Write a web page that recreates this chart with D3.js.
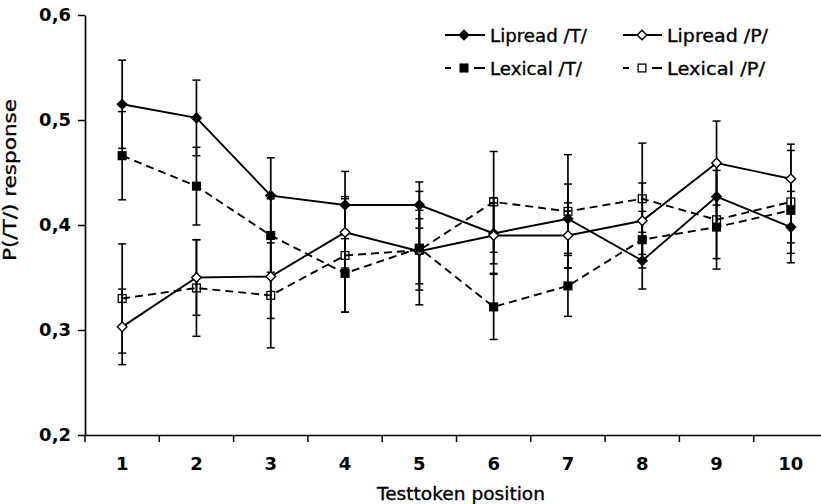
<!DOCTYPE html>
<html>
<head>
<meta charset="utf-8">
<script src="https://cdn.jsdelivr.net/npm/d3@7"></script>
<style>
  html, body { margin: 0; padding: 0; background: #fff; }
  svg { display: block; }
  text { font-family: "DejaVu Sans", "Liberation Sans", Arial, sans-serif; fill: #000; }
  .heavy { stroke: #000; stroke-width: 0.35px; }
</style>
</head>
<body>
<svg id="chart" width="821" height="504"></svg>
<script>
// Testtoken positions along the x axis
const positions = [1, 2, 3, 4, 5, 6, 7, 8, 9, 10];

// Mean P(/T/) responses and standard errors per condition
const lipreadT    = [0.515, 0.502, 0.428, 0.419, 0.419, 0.392, 0.406, 0.366, 0.427, 0.398];
const lipreadTErr = [0.042, 0.036, 0.036, 0.032, 0.022, 0.029, 0.033, 0.027, 0.031, 0.034];

const lipreadP    = [0.303, 0.350, 0.351, 0.393, 0.375, 0.390, 0.390, 0.404, 0.459, 0.444];
const lipreadPErr = [0.036, 0.036, 0.040, 0.034, 0.031, 0.036, 0.031, 0.036, 0.040, 0.033];

const lexicalT    = [0.466, 0.437, 0.390, 0.354, 0.378, 0.322, 0.342, 0.386, 0.398, 0.414];
const lexicalTErr = [0.042, 0.037, 0.035, 0.037, 0.054, 0.031, 0.029, 0.027, 0.030, 0.031];

const lexicalP    = [0.330, 0.340, 0.333, 0.371, 0.376, 0.422, 0.413, 0.425, 0.405, 0.422];
const lexicalPErr = [0.052, 0.046, 0.050, 0.054, 0.038, 0.048, 0.054, 0.053, 0.047, 0.049];

// Y axis ticks
const yTicks = [0.2, 0.3, 0.4, 0.5, 0.6];

// Series table: values, errors, line style, marker style
const series = [
  { name: "Lipread /T/", values: lipreadT, errors: lipreadTErr, dashed: false, shape: "diamond", filled: true },
  { name: "Lipread /P/", values: lipreadP, errors: lipreadPErr, dashed: false, shape: "diamond", filled: false },
  { name: "Lexical /T/", values: lexicalT, errors: lexicalTErr, dashed: true,  shape: "square",  filled: true },
  { name: "Lexical /P/", values: lexicalP, errors: lexicalPErr, dashed: true,  shape: "square",  filled: false }
];

const svg = d3.select("#chart");

const x = d3.scaleBand().domain(positions).range([85, 828]).padding(0);
const y = d3.scaleLinear().domain([0.2, 0.6]).range([435, 15]);
const cx = d => x(d) + x.bandwidth() / 2;

// ---- Axes ----
const yAxis = d3.axisLeft(y)
  .tickValues(yTicks)
  .tickSize(7)
  .tickSizeOuter(0)
  .tickPadding(7)
  .tickFormat(d => d3.format(".1f")(d).replace(".", ","));

const gy = svg.append("g").attr("transform", "translate(85,0)").call(yAxis);
gy.select(".domain").attr("stroke", "#000").attr("stroke-width", 1.7);
gy.selectAll(".tick line").attr("stroke", "#000").attr("stroke-width", 1.5);
gy.selectAll(".tick text")
  .style("font-size", "18px").style("font-weight", "bold")
  .attr("fill", "#000");

// x axis: labels at category centres, tick marks at category boundaries
const xAxis = d3.axisBottom(x).tickSize(0).tickSizeOuter(0).tickPadding(22);
const gx = svg.append("g").attr("transform", "translate(0,435)").call(xAxis);
gx.select(".domain").attr("stroke", "#000").attr("stroke-width", 1.7);
gx.selectAll(".tick text")
  .style("font-size", "18px").style("font-weight", "bold")
  .attr("fill", "#000");

const boundaries = positions.map(p => x(p)).concat([x.range()[1]]);
gx.selectAll(".bound")
  .data(boundaries)
  .join("line")
  .attr("class", "bound")
  .attr("x1", d => d).attr("x2", d => d)
  .attr("y1", 0).attr("y2", 7)
  .attr("stroke", "#000").attr("stroke-width", 1.5);

// Axis titles
svg.append("text")
  .attr("class", "heavy")
  .attr("x", 461).attr("y", 500)
  .attr("text-anchor", "middle")
  .attr("textLength", 168)
  .attr("lengthAdjust", "spacingAndGlyphs")
  .style("font-size", "18px")
  .text("Testtoken position");

svg.append("text")
  .attr("class", "heavy")
  .attr("transform", "translate(16,180) rotate(-90)")
  .attr("text-anchor", "middle")
  .attr("textLength", 162)
  .attr("lengthAdjust", "spacingAndGlyphs")
  .style("font-size", "18px")
  .text("P(/T/) response");

// ---- Marker helper ----
function drawMarker(g, s, px, py) {
  if (s.shape === "diamond") {
    const r = 4.8;
    g.append("path")
      .attr("d", `M${px},${py - r}L${px + r},${py}L${px},${py + r}L${px - r},${py}Z`)
      .attr("fill", s.filled ? "#000" : "#fff")
      .attr("stroke", "#000").attr("stroke-width", 1.4);
  } else {
    const h = 3.9;
    g.append("rect")
      .attr("x", px - h).attr("y", py - h)
      .attr("width", 2 * h).attr("height", 2 * h)
      .attr("fill", s.filled ? "#000" : "none")
      .attr("stroke", "#000").attr("stroke-width", 1.3);
  }
}

// ---- Error bars ----
const gErr = svg.append("g");
series.forEach(s => {
  positions.forEach((p, i) => {
    const v = s.values[i], e = s.errors[i];
    const px = cx(p);
    gErr.append("line")
      .attr("x1", px).attr("x2", px)
      .attr("y1", y(v - e)).attr("y2", y(v + e))
      .attr("stroke", "#000").attr("stroke-width", 1.7);
    [v - e, v + e].forEach(t => {
      gErr.append("line")
        .attr("x1", px - 4).attr("x2", px + 4)
        .attr("y1", y(t)).attr("y2", y(t))
        .attr("stroke", "#000").attr("stroke-width", 1.5);
    });
  });
});

// ---- Lines ----
const line = d3.line().x(d => cx(d.p)).y(d => y(d.v));
const gLines = svg.append("g");
series.forEach(s => {
  gLines.append("path")
    .datum(positions.map((p, i) => ({ p, v: s.values[i] })))
    .attr("d", line)
    .attr("fill", "none")
    .attr("stroke", "#000")
    .attr("stroke-width", 1.9)
    .attr("stroke-dasharray", s.dashed ? "8,5" : null);
});

// ---- Markers ----
const gMarks = svg.append("g");
series.forEach(s => {
  positions.forEach((p, i) => drawMarker(gMarks, s, cx(p), y(s.values[i])));
});

// ---- Legend ----
const legendCols = [
  { x0: 445, x1: 485, mx: 464, tx: 490 },
  { x0: 623, x1: 662, mx: 642, tx: 667 }
];
const legendRows = [35, 68];
const legendWidths = [97, 101, 92, 98];
const gLeg = svg.append("g");
series.forEach((s, i) => {
  const c = legendCols[i % 2], ly = legendRows[Math.floor(i / 2)];
  gLeg.append("line")
    .attr("x1", c.x0).attr("x2", c.x1)
    .attr("y1", ly).attr("y2", ly)
    .attr("stroke", "#000").attr("stroke-width", 1.9)
    .attr("stroke-dasharray", s.dashed ? "6,23,11" : null);
  drawMarker(gLeg, s, c.mx, ly);
  gLeg.append("text")
    .attr("class", "heavy")
    .attr("x", c.tx).attr("y", ly + 7)
    .attr("textLength", legendWidths[i])
    .attr("lengthAdjust", "spacingAndGlyphs")
    .style("font-size", "18px")
    .text(s.name);
});
</script>
</body>
</html>
